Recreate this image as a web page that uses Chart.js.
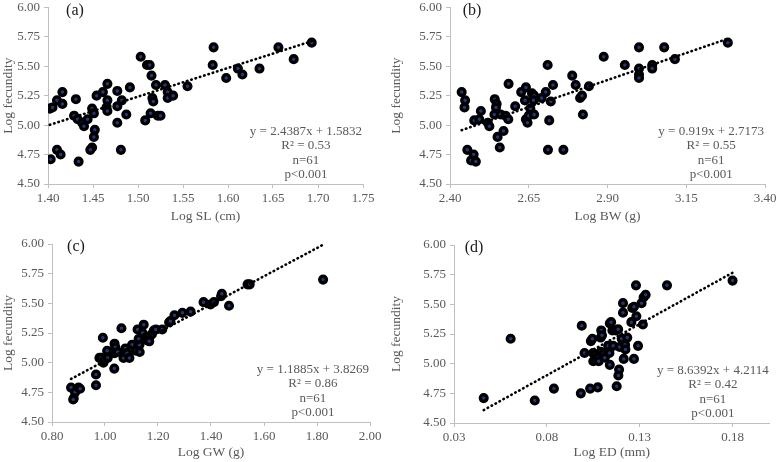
<!DOCTYPE html>
<html>
<head>
<meta charset="utf-8">
<script src="https://cdn.jsdelivr.net/npm/chart.js@4.4.1/dist/chart.umd.min.js"></script>
<style>
  html, body { margin: 0; padding: 0; background: #fff; }
  #wrap { position: relative; width: 777px; height: 462px; }
  canvas { position: absolute; }
</style>
</head>
<body>
<div id="wrap">
  <canvas id="chartA" width="388" height="230" style="left:0;top:0"></canvas>
  <canvas id="chartB" width="389" height="230" style="left:388px;top:0"></canvas>
  <canvas id="chartC" width="388" height="232" style="left:0;top:230px"></canvas>
  <canvas id="chartD" width="389" height="232" style="left:388px;top:230px"></canvas>
</div>
<script>
// ---- data ----
const fecundityTicks = [4.50, 4.75, 5.00, 5.25, 5.50, 5.75, 6.00]

// (a) Log SL
const slTicks = [1.40, 1.45, 1.50, 1.55, 1.60, 1.65, 1.70, 1.75]
const slX = [1.402, 1.405, 1.410, 1.416, 1.416, 1.403, 1.410, 1.414, 1.431, 1.429, 1.433, 1.438, 1.440, 1.444, 1.434,
  1.449, 1.451, 1.452, 1.451, 1.449, 1.447, 1.454, 1.461, 1.466, 1.466, 1.465, 1.466, 1.477, 1.477, 1.482, 1.477,
  1.481, 1.487, 1.491, 1.503, 1.510, 1.513, 1.508, 1.515, 1.516, 1.517, 1.514, 1.522, 1.525, 1.520, 1.530, 1.533, 1.533,
  1.539, 1.555, 1.584, 1.583, 1.598, 1.611, 1.616, 1.635, 1.656, 1.673, 1.693]
const slY = [5.14, 5.15, 5.21, 5.28, 5.18, 4.71, 4.79, 4.75, 5.22, 5.08, 5.05, 5.02, 4.99, 5.05, 4.69,
  5.14, 5.10, 4.96, 4.90, 4.81, 4.79, 5.25, 5.28, 5.35, 5.21, 5.15, 5.12, 5.29, 5.16, 5.21, 5.02,
  4.79, 5.09, 5.32, 5.58, 5.51, 5.51, 5.04, 5.42, 5.23, 5.20, 5.10, 5.08, 5.08, 5.34, 5.34, 5.28, 5.23,
  5.25, 5.33, 5.66, 5.51, 5.40, 5.48, 5.43, 5.48, 5.66, 5.56, 5.70]

// (b) Log BW
const bwTicks = [2.40, 2.65, 2.90, 3.15, 3.40]
const bwX = [2.437, 2.448, 2.446, 2.455, 2.475, 2.467, 2.482, 2.477, 2.493, 2.498, 2.520, 2.525, 2.542, 2.548, 2.546,
  2.541, 2.561, 2.576, 2.585, 2.551, 2.570, 2.558, 2.586, 2.607, 2.626, 2.641, 2.638, 2.641, 2.646, 2.650, 2.655,
  2.660, 2.667, 2.665, 2.667, 2.691, 2.704, 2.710, 2.720, 2.715, 2.711, 2.727, 2.760, 2.788, 2.799, 2.813, 2.819,
  2.822, 2.841, 2.888, 2.955, 3.000, 3.000, 3.000, 3.000, 3.042, 3.042, 3.080, 3.114, 3.282]
const bwY = [5.28, 5.21, 5.15, 4.79, 4.75, 4.70, 4.69, 5.04, 5.05, 5.12, 5.02, 4.99, 5.22, 5.18, 5.15,
  5.09, 5.09, 5.08, 5.05, 4.90, 4.95, 4.81, 5.35, 5.16, 5.28, 5.32, 5.21, 5.05, 5.02, 5.08, 5.14,
  5.27, 5.25, 5.21, 5.09, 5.23, 5.28, 5.51, 5.20, 5.04, 4.79, 5.34, 4.79, 5.42, 5.34, 5.23, 5.25,
  5.09, 5.33, 5.58, 5.51, 5.66, 5.48, 5.43, 5.40, 5.51, 5.48, 5.66, 5.56, 5.70]

// (c) Log GW
const gwTicks = [0.80, 1.00, 1.20, 1.40, 1.60, 1.80, 2.00]
const gwX = [0.872, 0.887, 0.882, 0.880, 0.900, 0.906, 0.966, 0.966, 0.979, 0.992, 0.985, 0.994, 0.997, 1.008, 1.010,
  1.036, 1.039, 1.036, 1.035, 1.048, 1.062, 1.070, 1.077, 1.083, 1.092, 1.102, 1.117, 1.123, 1.127, 1.130, 1.131,
  1.146, 1.142, 1.152, 1.158, 1.169, 1.177, 1.184, 1.192, 1.167, 1.216, 1.242, 1.247, 1.262, 1.292, 1.323, 1.372,
  1.398, 1.411, 1.438, 1.441, 1.468, 1.538, 1.546, 1.823]
const gwY = [4.79, 4.75, 4.70, 4.69, 4.79, 4.78, 4.90, 4.81, 5.04, 5.21, 5.04, 5.00, 5.02, 5.10, 5.04,
  5.16, 5.13, 5.08, 4.95, 5.09, 5.29, 5.04, 5.12, 5.08, 5.04, 5.15, 5.10, 5.28, 5.20, 5.15, 5.09,
  5.32, 5.25, 5.21, 5.19, 5.22, 5.24, 5.27, 5.28, 5.18, 5.28, 5.34, 5.35, 5.40, 5.42, 5.43, 5.51,
  5.49, 5.51, 5.56, 5.58, 5.48, 5.66, 5.66, 5.70]

// (d) Log ED
const edTicks = [0.03, 0.08, 0.13, 0.18]
const edX = [0.046, 0.0605, 0.0735, 0.0838, 0.0983, 0.1033, 0.1074, 0.0988, 0.1003, 0.1037, 0.1045, 0.1049, 0.1050,
  0.1058, 0.1064, 0.1074, 0.1079, 0.1090, 0.1093, 0.1097, 0.1090, 0.1103, 0.1112, 0.1130, 0.1137, 0.1139, 0.1139,
  0.1146, 0.1153, 0.1157, 0.1171, 0.1184, 0.1189, 0.1185, 0.1176, 0.1192, 0.1203, 0.1210, 0.1210, 0.1214, 0.1221,
  0.1223, 0.1233, 0.1255, 0.1260, 0.1269, 0.1269, 0.1280, 0.1282, 0.1291, 0.1310, 0.1317, 0.1321, 0.1332, 0.1447, 0.180]
const edY = [4.71, 5.21, 4.69, 4.79, 4.75, 4.79, 4.80, 5.32, 5.09, 5.19, 5.21, 5.09, 5.02,
  5.07, 5.04, 5.05, 5.02, 5.22, 5.28, 5.24, 5.10, 5.08, 5.05, 5.15, 5.09, 4.99, 5.34,
  5.35, 5.28, 5.15, 5.28, 5.29, 4.95, 4.90, 4.81, 5.14, 5.21, 5.51, 5.43, 5.04, 5.16,
  5.12, 5.22, 5.35, 5.47, 5.48, 5.04, 5.66, 5.40, 5.15, 5.51, 5.33, 5.56, 5.58, 5.66, 5.70]

// regression lines as printed on the figure
const slopes = [2.4387, 0.919, 1.1885, 8.6392]
const intercepts = [1.5832, 2.7173, 3.8269, 4.2114]
const eqTexts = [
  ['y = 2.4387x + 1.5832', 'R² = 0.53', 'n=61', 'p<0.001'],
  ['y = 0.919x + 2.7173', 'R² = 0.55', 'n=61', 'p<0.001'],
  ['y = 1.1885x + 3.8269', 'R² = 0.86', 'n=61', 'p<0.001'],
  ['y = 8.6392x + 4.2114', 'R² = 0.42', 'n=61', 'p<0.001']
]
const panelLabels = ['(a)', '(b)', '(c)', '(d)']
const xTitles = ['Log SL (cm)', 'Log BW (g)', 'Log GW (g)', 'Log ED (mm)']

const TEXT = '#595959'
const AXIS = '#bfbfbf'
const FONT = 'Liberation Serif'

// text drawn inside the plot: panel letter + equation block
const textPlugin = (label, lines, labelDx) => ({
  id: 'panelText',
  afterDraw(chart) {
    const {ctx, chartArea} = chart
    ctx.save()
    ctx.fillStyle = '#1a1a1a'
    ctx.font = `16px "${FONT}"`
    ctx.textAlign = 'center'
    ctx.textBaseline = 'middle'
    ctx.fillText(label, chartArea.left + labelDx, chartArea.top + 3)

    ctx.fillStyle = TEXT
    ctx.font = `13px "${FONT}"`
    const w = Math.max(...lines.map(l => ctx.measureText(l).width))
    const cx = chartArea.right - w / 2 - 1
    lines.forEach((l, i) => {
      ctx.fillText(l, cx, chartArea.bottom - 9.5 - (lines.length - 1 - i) * 14.3)
    })
    ctx.restore()
  }
})

const makePanel = (id, idx, xs, ys, xTicks, box) => {
  const points = xs.map((x, i) => ({x: x, y: ys[i]}))
  const minX = Math.min(...xs), maxX = Math.max(...xs)
  const trend = [minX, maxX].map(x => ({x: x, y: slopes[idx] * x + intercepts[idx]}))

  new Chart(document.getElementById(id), {
    type: 'scatter',
    data: {
      datasets: [{
        type: 'line',
        data: trend,
        borderColor: '#000',
        borderWidth: 2.6,
        borderDash: [0.5, 4],
        borderCapStyle: 'round',
        pointRadius: 0,
        fill: false,
        order: 0
      }, {
        data: points,
        pointRadius: 3.4,
        pointBorderWidth: 3.3,
        pointBorderColor: '#000',
        pointBackgroundColor: '#25367a',
        order: 1
      }]
    },
    options: {
      responsive: false,
      animation: false,
      layout: {padding: {left: 0, top: box.top, right: box.right, bottom: 0}},
      plugins: {legend: {display: false}, tooltip: {enabled: false}},
      scales: {
        x: {
          type: 'linear',
          min: xTicks[0],
          max: box.xMax,
          afterBuildTicks: s => { s.ticks = xTicks.map(v => ({value: v})) },
          afterFit: s => { s.height = box.xh; s.paddingLeft = 0; s.paddingRight = 0 },
          grid: {drawOnChartArea: false, drawTicks: true, tickLength: 4, color: AXIS},
          border: {color: AXIS, width: 1},
          ticks: {
            color: TEXT, padding: 3, maxRotation: 0, autoSkip: false,
            font: {family: FONT, size: 13},
            callback: v => v.toFixed(2)
          },
          title: {
            display: true, text: xTitles[idx], color: TEXT,
            font: {family: FONT, size: 13.5},
            padding: {top: 0, bottom: box.titlePad}
          }
        },
        y: {
          min: 4.5,
          max: 6,
          afterBuildTicks: s => { s.ticks = fecundityTicks.map(v => ({value: v})) },
          afterFit: s => { s.width = box.yw; s.paddingTop = 0; s.paddingBottom = 0 },
          grid: {drawOnChartArea: false, drawTicks: true, tickLength: 4, color: AXIS},
          border: {color: AXIS, width: 1},
          ticks: {
            color: TEXT, padding: 4,
            font: {family: FONT, size: 13},
            callback: v => v.toFixed(2)
          },
          title: {
            display: true, text: 'Log fecundity', color: TEXT,
            font: {family: FONT, size: 13.5},
            padding: {top: 0, bottom: 0}
          }
        }
      }
    },
    plugins: [textPlugin(panelLabels[idx], eqTexts[idx], box.labelDx)]
  })
}

makePanel('chartA', 0, slX, slY, slTicks, {yw: 48, top: 6, right: 25, xh: 46, titlePad: 5, xMax: 1.75, labelDx: 27})
makePanel('chartB', 1, bwX, bwY, bwTicks, {yw: 62, top: 7, right: 12, xh: 46, titlePad: 5, xMax: 3.40, labelDx: 22})
makePanel('chartC', 2, gwX, gwY, gwTicks, {yw: 52, top: 14, right: 18, xh: 40, titlePad: 1, xMax: 2.00, labelDx: 24})
makePanel('chartD', 3, edX, edY, edTicks, {yw: 66, top: 15, right: 7, xh: 39, titlePad: 1, xMax: 0.20, labelDx: 20})
</script>
</body>
</html>
